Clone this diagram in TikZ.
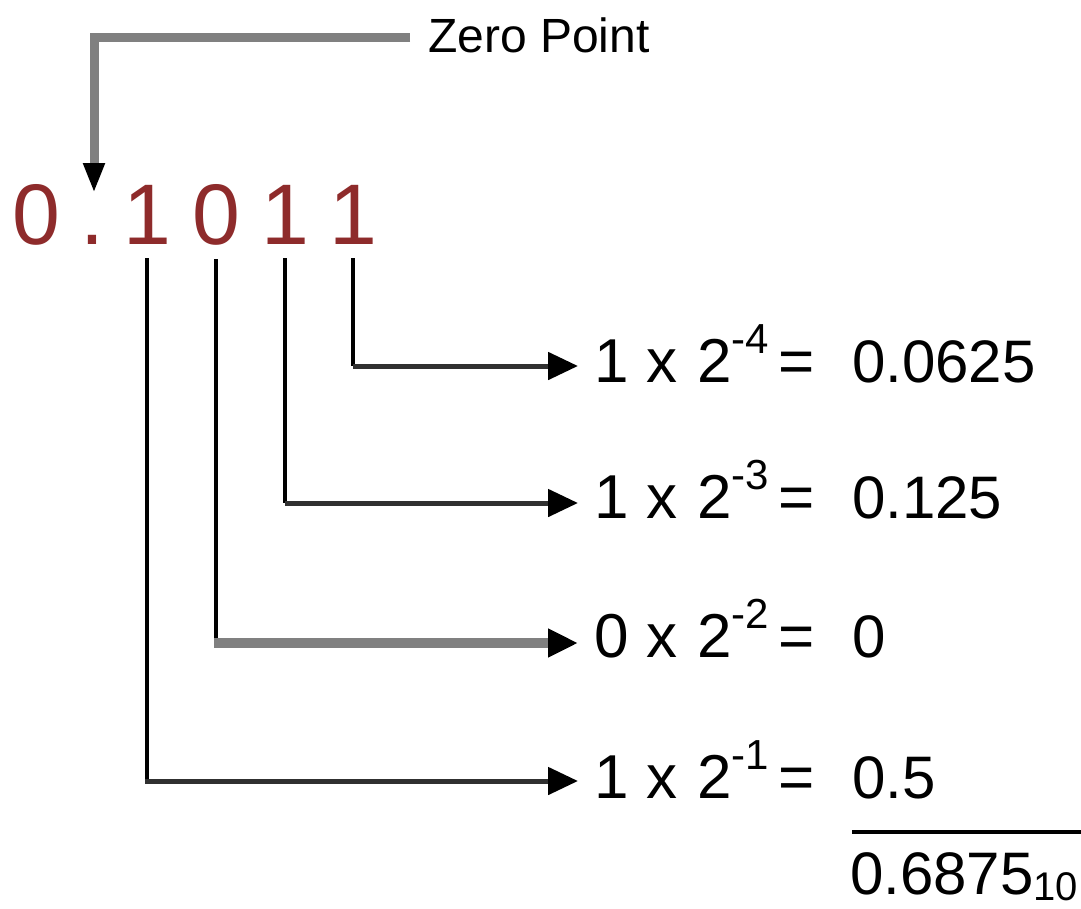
\documentclass[tikz,border=0pt]{standalone}
\usepackage{fontspec}
\setmainfont{Liberation Sans}
\usetikzlibrary{arrows.meta}
\definecolor{digitred}{HTML}{8E2B2B}
\definecolor{zpgray}{HTML}{808080}
\definecolor{darkline}{HTML}{303030}
\begin{document}
\begin{tikzpicture}[x=1pt,y=-1pt,
  bit/.style={font=\fontsize{86}{86}\selectfont, text=digitred, inner sep=0pt, anchor=base},
  eq/.style={font=\fontsize{62}{62}\selectfont, inner sep=0pt, anchor=base},
  eqw/.style={font=\fontsize{62}{62}\selectfont, inner sep=0pt, anchor=base west},
  val/.style={font=\fontsize{60}{60}\selectfont, inner sep=0pt, anchor=base west},
  vline/.style={line width=4.5pt, black},
  hline/.style={line width=5pt, darkline, -{Triangle[length=30pt,width=27pt,color=black]}},
  hlinegray/.style={line width=10pt, zpgray, -{Triangle[length=30pt,width=27pt,color=black]}},
  zpline/.style={line width=9pt, zpgray, -{Triangle[length=30pt,width=20pt,color=black]}},
]
\useasboundingbox (0,0) rectangle (1081,908);

% Zero point label
\node[font=\fontsize{48}{48}\selectfont, inner sep=0pt, anchor=base west] (zp) at (428,52) {Zero Point};

% binary digits
\node[bit] (b0) at (36,244) {0};
\node[bit] (bdot) at (92,244) {.};
\node[bit] (b1) at (147,244) {1};
\node[bit] (b2) at (216,244) {0};
\node[bit] (b3) at (285,244) {1};
\node[bit] (b4) at (353,244) {1};

% arrow end coordinates
\coordinate (zpEnd) at (94,193);
\coordinate (t1) at (578,366);
\coordinate (t2) at (578,503);
\coordinate (t3) at (578,643);
\coordinate (t4) at (578,781);

% equations
\foreach \i/\B/\c/\e/\v in {1/382/1/4/0.0625, 2/518/1/3/0.125, 3/657/0/2/0, 4/798/1/1/0.5}{
  \node[eq] (c\i) at (612,\B) {\c};
  \node[eq] (x\i) at (662,\B) {x};
  \node[eqw] (p\i) at (697,\B) {2\raisebox{29pt}{\fontsize{42}{42}\selectfont -\e}};
  \node[eq] (q\i) at (797,\B) {=};
  \node[val] (v\i) at (852,\B) {\v};
}

% total
\node[val] (tot) at (850,894) {0.6875\raisebox{-6pt}{\fontsize{40}{40}\selectfont 10}};
\draw[line width=4pt, black] (852,832) -- (1081,832);

% zero point connector
\draw[zpline] ([xshift=-18pt,yshift=-3pt]zp.west) -| (zpEnd);

% bit connectors
\draw[vline] ([yshift=-14pt]b4.south) -- (b4.south |- t1);
\draw[hline] (b4.south |- t1) -- (t1);
\draw[vline] ([yshift=-14pt]b3.south) -- (b3.south |- t2);
\draw[hline] (b3.south |- t2) -- (t2);
\draw[vline] ([yshift=-14pt]b2.south) -- (b2.south |- t3);
\draw[hlinegray] ([xshift=-2.25pt]b2.south |- t3) -- (t3);
\draw[vline] ([yshift=-14pt]b1.south) -- (b1.south |- t4);
\draw[hline] ([xshift=-2.25pt]b1.south |- t4) -- (t4);
\end{tikzpicture}
\end{document}
